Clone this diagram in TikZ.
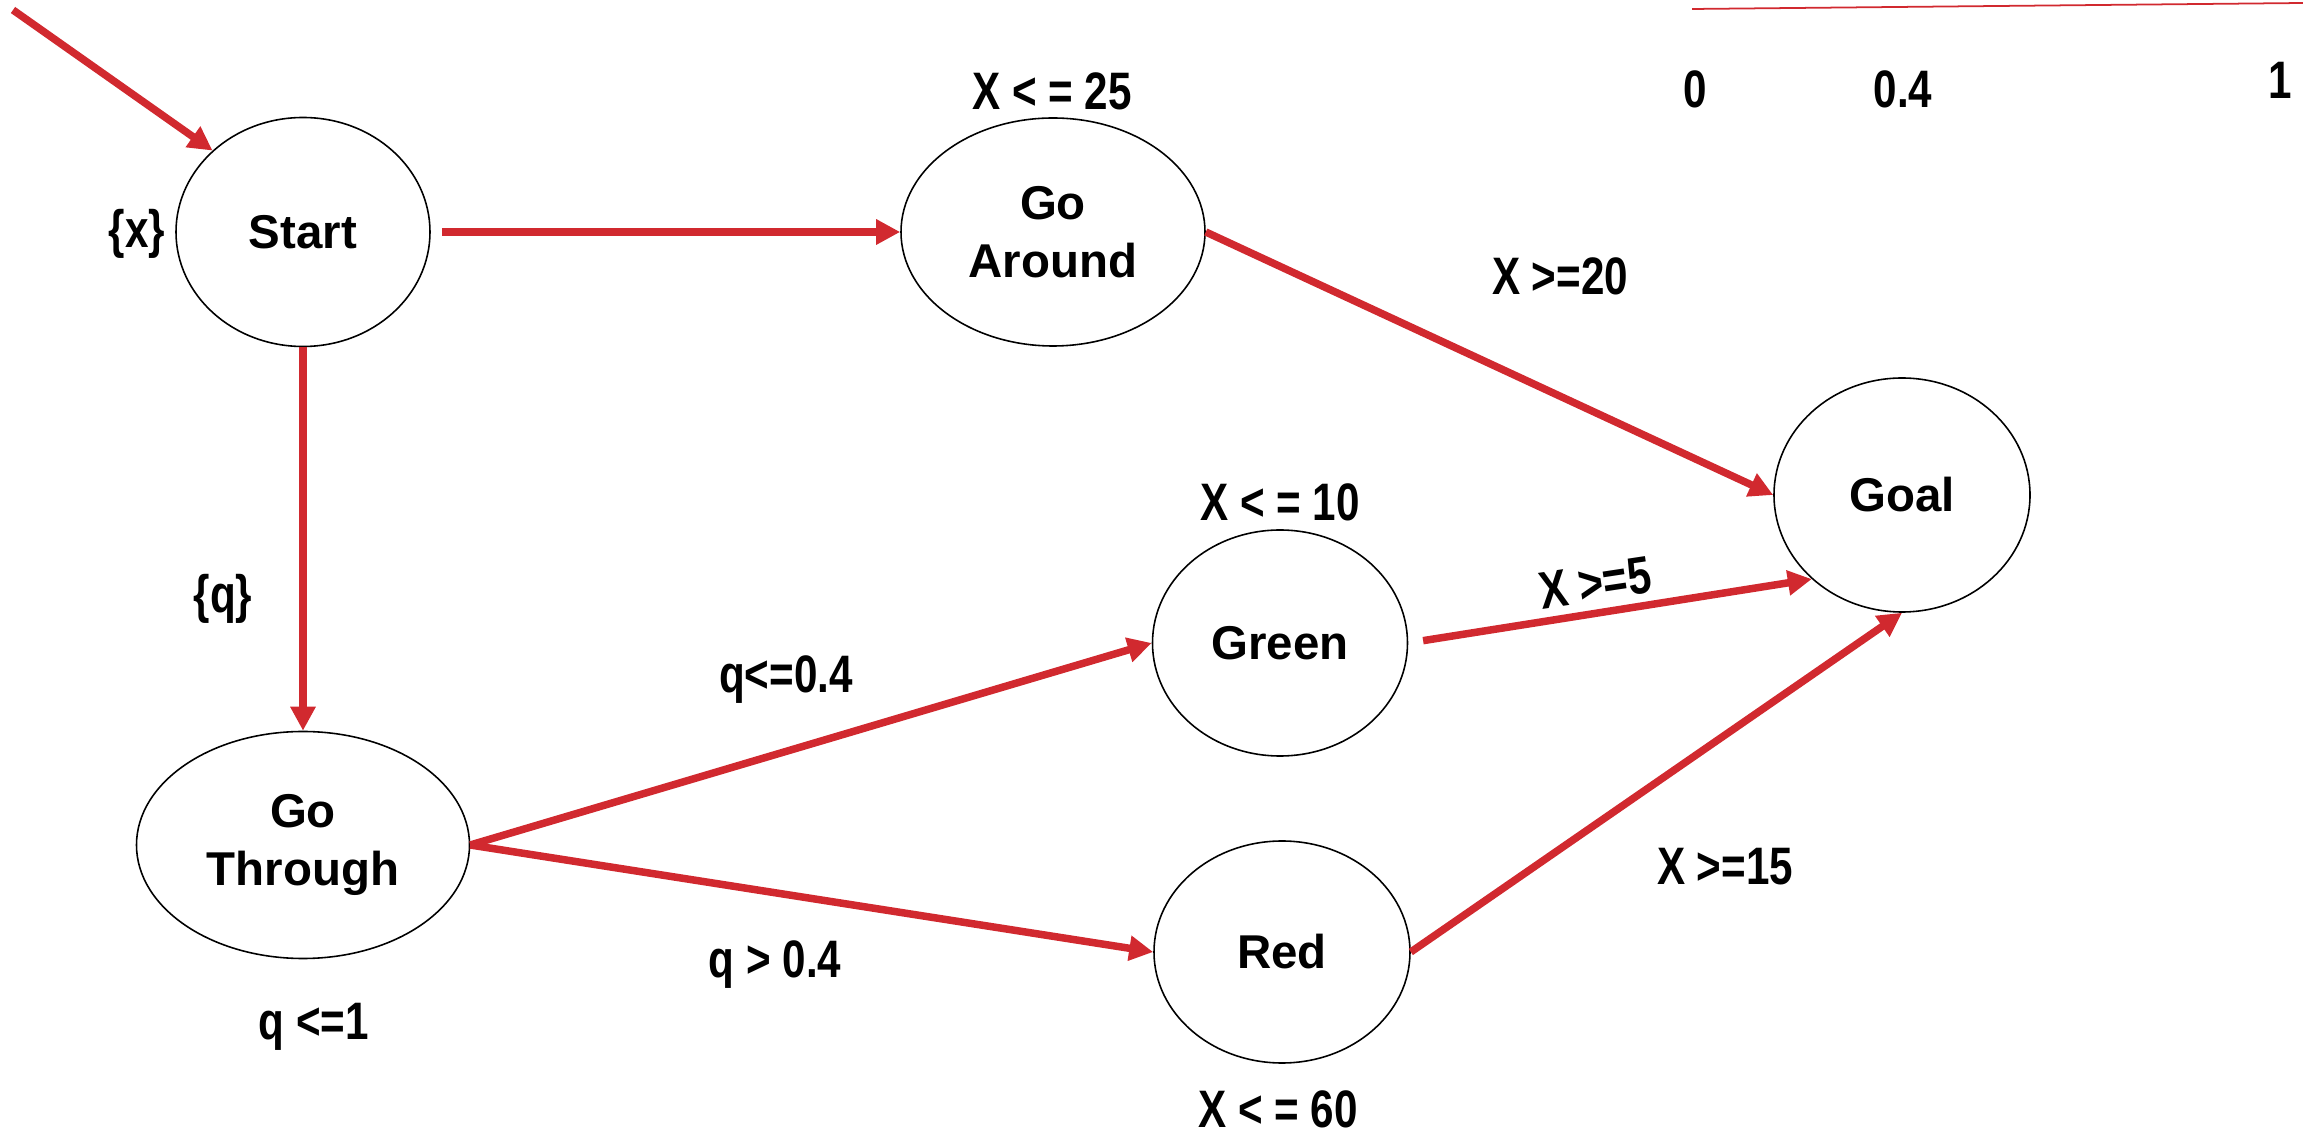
\documentclass[tikz,border=0pt]{standalone}
\usepackage{xcolor}
\usepackage{fontspec}
\setmainfont{Liberation Sans}
\newfontfamily\narrowsans[FakeStretch=0.8]{Liberation Sans}
\usepackage{tikz}
\usetikzlibrary{shapes,arrows.meta,positioning}
\definecolor{edgered}{RGB}{209,41,47}

\begin{document}
\begin{tikzpicture}[
    state/.style={ellipse, draw, line width=0.45pt, inner sep=0pt, align=center, font=\fontsize{13.5}{16.5}\selectfont\bfseries},
    arrow/.style={-{Triangle[length=0.24cm,width=0.24cm]}, draw=edgered, line width=0.075cm},
    cond/.style={inner sep=0pt, font=\narrowsans\fontsize{15}{18}\selectfont\bfseries}
]
    \useasboundingbox (0,0) rectangle (23.03,11.34);

    \node[state, minimum width=2.54cm, minimum height=2.29cm] (start) at (3.03,9.02) {Start};
    \node[state, minimum width=3.04cm, minimum height=2.28cm] (goaround) at (10.53,9.02) {Go\\Around};
    \node[state, minimum width=3.33cm, minimum height=2.27cm] (gothrough) at (3.03,2.89) {Go\\Through};
    \node[state, minimum width=2.55cm, minimum height=2.26cm] (green) at (12.80,4.91) {Green};
    \node[state, minimum width=2.56cm, minimum height=2.22cm] (red) at (12.82,1.82) {Red};
    \node[state, minimum width=2.56cm, minimum height=2.34cm] (goal) at (19.02,6.39) {Goal};

    \node[cond] (resetx) at (1.37,9.00) {\{x\}};
    \node[cond] (resetq) at (2.23,5.35) {\{q\}};
    \node[cond] (invthrough) at (3.14,1.07) {q <=1};
    \node[cond] (guardgreen) at (7.86,4.54) {q<=0.4};
    \node[cond] (guardred) at (7.75,1.69) {q > 0.4};
    \node[cond] (invaround) at (10.52,10.43) {X < = 25};
    \node[cond] (invgreen) at (12.80,6.32) {X < = 10};
    \node[cond] (invred) at (12.78,0.25) {X < = 60};
    \node[cond] (guardaround) at (15.60,8.58) {X >=20};
    \node[cond, rotate=8.6] (guardgreengoal) at (15.95,5.51) {X >=5};
    \node[cond] (guardredgoal) at (17.25,2.67) {X >=15};

    \coordinate (scaleleft) at (16.92,11.25);
    \coordinate (scaleright) at (23.03,11.31);
    \draw[edgered, line width=0.5pt] (scaleleft) -- (scaleright);
    \node[cond] (tickzero) at (16.95,10.45) {0};
    \node[cond] (tickmid) at (19.03,10.45) {0.4};
    \node[cond] (tickone) at (22.80,10.54) {1};

    \coordinate (init) at (0.13,11.24);
    \draw[arrow] (init) -- (start.138);
    \draw[arrow, shorten <=0.11cm] (start.east) -- (goaround.west);
    \draw[arrow] (start.south) -- (gothrough.north);
    \draw[arrow] (goaround.east) -- (goal.west);
    \draw[arrow] (gothrough.east) -- (green.west);
    \draw[arrow] (gothrough.east) -- (red.west);
    \draw[arrow, shorten <=0.15cm] (green.east) -- (goal.223);
    \draw[arrow] (red.east) -- (goal.south);
\end{tikzpicture}
\end{document}
